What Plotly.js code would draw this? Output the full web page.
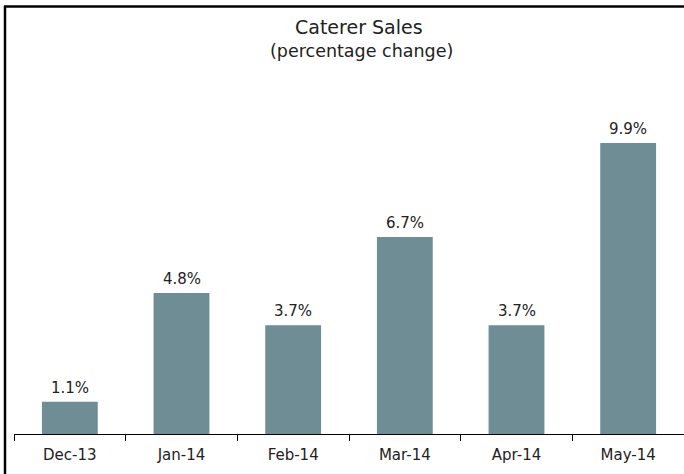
<!DOCTYPE html>
<html>
<head>
<meta charset="utf-8">
<script src="https://cdn.plot.ly/plotly-3.0.1.min.js"></script>
<style>html,body{margin:0;padding:0;background:#fff;}#chart{width:684px;height:474px;}</style>
</head>
<body>
<div id="chart"></div>
<script>
const categories = ["Dec-13", "Jan-14", "Feb-14", "Mar-14", "Apr-14", "May-14"];
const salesChange = [1.1, 4.8, 3.7, 6.7, 3.7, 9.9];
const valueLabels = ["1.1%", "4.8%", "3.7%", "6.7%", "3.7%", "9.9%"];

const FONT = "DejaVu Sans, Verdana, sans-serif";
const TXT = "#222";
const W = 684, H = 474;
const M = {l: 14, r: 0, t: 40, b: 40};
const pw = W - M.l - M.r, ph = H - M.t - M.b;
const px = x => (x - M.l) / pw;
const py = y => (H - M.b - y) / ph;

const trace = {
  type: "bar",
  x: categories,
  y: salesChange,
  marker: {color: "#6e8d94"},
  width: 0.5,
  hoverinfo: "none"
};

const labelAnns = categories.map((c, i) => ({
  x: c, y: salesChange[i], xref: "x", yref: "y",
  text: valueLabels[i], showarrow: false,
  xanchor: "center", yanchor: "bottom", yshift: 3,
  font: {family: FONT, size: 15, color: TXT}
}));

const layout = {
  width: W, height: H,
  margin: M,
  paper_bgcolor: "#fff",
  plot_bgcolor: "#fff",
  showlegend: false,
  font: {family: FONT, color: TXT},
  xaxis: {
    type: "category",
    showline: true, linecolor: "#000", linewidth: 1,
    ticks: "outside", tickson: "boundaries", ticklen: 6, tickcolor: "#000", tickwidth: 1,
    ticklabelstandoff: 7,
    tickfont: {family: FONT, size: 15, color: TXT},
    showgrid: false, zeroline: false, fixedrange: true
  },
  yaxis: {
    range: [0, 394 / 29.4],
    visible: false, showgrid: false, zeroline: false, fixedrange: true
  },
  annotations: labelAnns.concat([
    {text: "Caterer Sales", xref: "paper", yref: "paper", x: px(359), y: py(27), xanchor: "center", yanchor: "middle", showarrow: false, font: {family: FONT, size: 19, color: TXT}},
    {text: "(percentage change)", xref: "paper", yref: "paper", x: px(361), y: py(51), xanchor: "center", yanchor: "middle", showarrow: false, font: {family: FONT, size: 17.5, color: TXT}}
  ]),
  shapes: [
    {type: "line", xref: "paper", yref: "paper", x0: px(5), x1: px(5), y0: py(6), y1: py(H + 2), line: {color: "#000", width: 2.5}},
    {type: "line", xref: "paper", yref: "paper", x0: px(4), x1: px(W + 2), y0: py(6.5), y1: py(6.5), line: {color: "#000", width: 2.5}}
  ]
};

Plotly.newPlot("chart", [trace], layout, {staticPlot: true, displayModeBar: false});
</script>
</body>
</html>
